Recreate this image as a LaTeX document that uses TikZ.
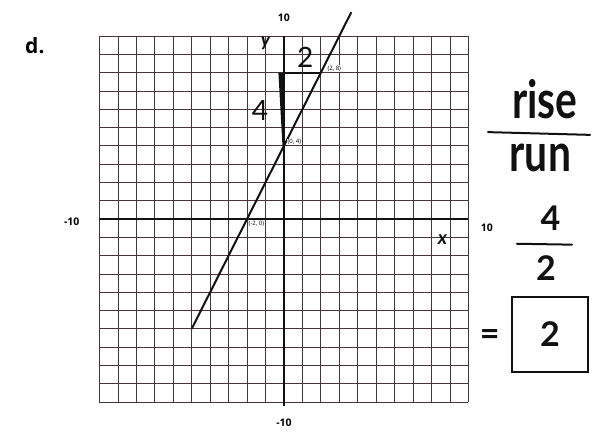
\documentclass[tikz,border=0pt]{standalone}
\usepackage{fontspec}
\setmainfont{Open Sans}
\newfontfamily\hand{Lato}
\usetikzlibrary{positioning,calc}
\definecolor{gridline}{HTML}{4A3436}
\definecolor{ink}{HTML}{111111}
\newcommand{\tallword}[1]{\scalebox{1.2}[1.55]{#1}}
\tikzset{
  gridrule/.style={draw=gridline,line width=0.75pt},
  axis/.style={draw=ink,line width=2.8pt},
  graphline/.style={draw=ink,line width=2pt},
  pen/.style={draw=ink,line width=2pt,line cap=round},
  ticklabel/.style={font=\bfseries\fontsize{10.5}{10.5}\selectfont,inner sep=0pt},
  ptlabel/.style={font=\fontsize{6}{6}\selectfont,inner sep=0.5pt,fill=white},
  handwrite/.style={font=\hand\bfseries\fontsize{34}{34}\selectfont,inner sep=0pt,text=ink},
  axislabel/.style={font=\hand\bfseries\itshape\fontsize{19}{19}\selectfont,inner sep=0pt,text=ink},
  every node/.style={font=\sffamily\footnotesize}
}
\begin{document}
\begin{tikzpicture}[x=18.45pt,y=18.3pt]
\useasboundingbox (-15.39,-11.75) rectangle (16.86,11.97);
\fill[white] (-15.39,-11.75) rectangle (16.86,11.97);

% grid
\foreach \k in {-10,...,10}{
  \draw[gridrule] (\k,-10) -- (\k,10);
  \draw[gridrule] (-10,\k) -- (10,\k);
}

% axes
\coordinate (xl) at (-10,0);
\coordinate (xr) at (10,0);
\coordinate (yt) at (0,10);
\coordinate (yb) at (0,-10.2);
\draw[axis] (xl) -- (xr);
\draw[axis] (yb) -- (yt);

\node[ticklabel] (ytop) at (0,11.0) {10};
\node[ticklabel] (ybot) at (0,-11.15) {-10};
\node[ticklabel] (xleft) at (-11.5,-0.15) {-10};
\node[ticklabel] (xright) at (11.0,-0.45) {10};
\node[axislabel] (ylab) at (-1.0,9.6) {y};
\node[axislabel] (xlab) at (8.6,-1.15) {x};
\node[font=\bfseries\fontsize{21}{21}\selectfont,inner sep=0pt] (part) at (-13.5,9.45) {d.};

% the line y = 2x + 4
\coordinate (lo) at (-5,-6);
\coordinate (hi) at (3.65,11.3);
\coordinate (p1) at (-2,0);
\coordinate (p2) at (0,4);
\coordinate (p3) at (2,8);
\coordinate (corner) at (0,8);
\draw[graphline] (lo) -- (hi);

\node[ptlabel,below right=1pt and 1pt of p1] (l1) {(-2, 0)};
\node[ptlabel,right=3pt of p2,yshift=4pt] (l2) {(0, 4)};
\node[ptlabel,right=6pt of p3,yshift=4pt] (l3) {(2, 8)};

% rise and run
\draw[ink,line width=1.8pt] (corner) -- (p3);
\fill[ink] ($(corner)+(-0.3,0)$) -- (corner) -- (p2) -- ($(p2)+(-0.08,0)$) -- cycle;
\node[handwrite,font=\hand\fontsize{28}{28}\selectfont] (runval) at (1.15,8.85) {2};
\node[handwrite,font=\hand\fontsize{28}{28}\selectfont] (riseval) at (-1.3,5.95) {4};

% work on the right
\node[handwrite] (rise) at (14.15,6.55) {\tallword{rise}};
\node[handwrite] (run) at (13.9,3.35) {\tallword{run}};
\coordinate (bar1l) at (11.06,4.75);
\coordinate (bar1r) at (16.59,4.6);
\draw[pen] (bar1l) -- (bar1r);

\node[handwrite] (num) at (14.45,0.05) {4};
\node[handwrite] (den) at (14.2,-2.7) {2};
\coordinate (bar2l) at (12.63,-1.35);
\coordinate (bar2r) at (15.61,-1.4);
\draw[pen] (bar2l) -- (bar2r);

\node[handwrite] (eq) at (11.15,-6.5) {=};
\node[handwrite,draw=ink,line width=2pt,minimum width=4.1*18.45pt,minimum height=4.1*18.3pt] (answer) at (14.42,-6.3) {2};
\end{tikzpicture}
\end{document}
